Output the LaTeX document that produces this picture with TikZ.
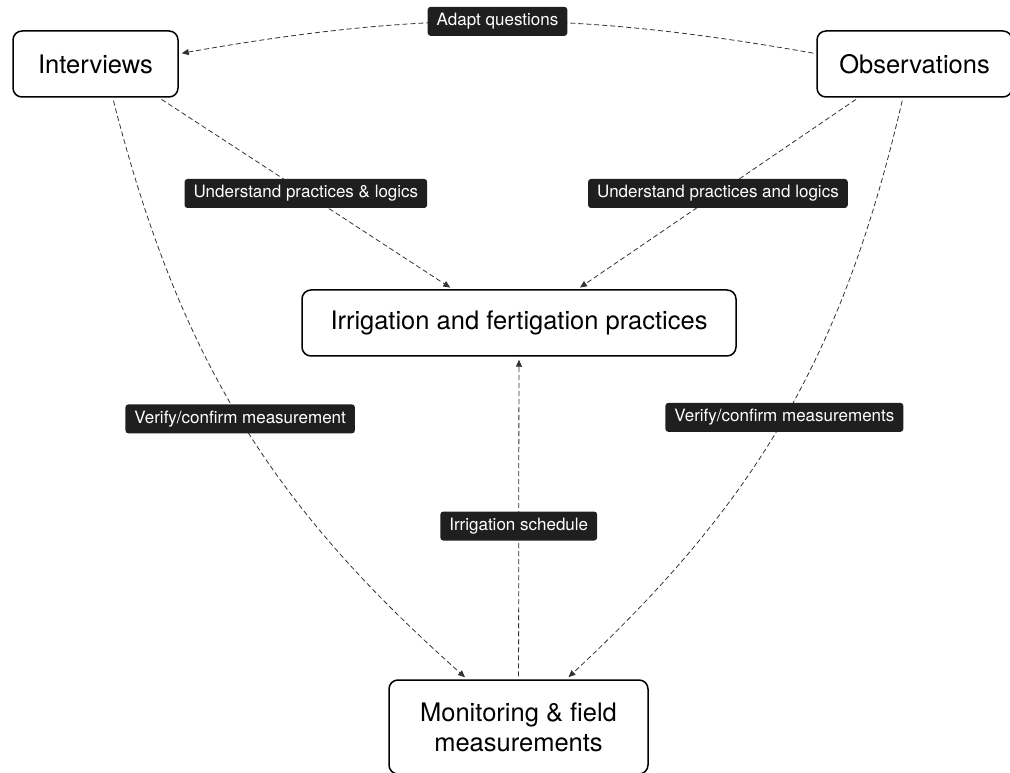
\documentclass[tikz,border=0pt]{standalone}
\usepackage{fontspec}
\setmainfont{TeX Gyre Heros}
\usetikzlibrary{arrows.meta}

\tikzset{
    block/.style={draw, rounded corners=9pt, line width=1.5pt, align=center,
        font=\fontsize{25.5}{30}\selectfont, minimum height=66pt, fill=white},
    tag/.style={fill=black!88, text=white, rounded corners=3pt, inner xsep=9pt,
        font=\fontsize{17}{19}\selectfont, minimum height=29pt},
    link/.style={draw=black!80, line width=0.8pt, dash pattern=on 5pt off 3pt,
        -{Triangle[length=7pt,width=6pt]}, shorten <=3pt, shorten >=3pt},
}

\begin{document}
\begin{tikzpicture}[x=1pt,y=1pt]
            \useasboundingbox (0,0) rectangle (1010,772);
            \node [block, minimum width=165pt] (int) at(95.5,708) {Interviews};
            \node [block, minimum width=195pt] (obs) at(914.5,708) {Observations};
            \node [block, minimum width=434pt] (irr) at(519,449) {Irrigation and fertigation practices};
            \node [block, minimum width=259pt, minimum height=94pt] (mon) at(518.5,45) {Monitoring \& field\\measurements};
            \draw [link] (obs.174) to[bend right=10] node [tag] (adapt) {Adapt questions} (int.7);
            \draw [link] (int.-28) -- node [tag] (undl) {Understand practices \& logics} (irr.153);
            \draw [link] (obs.211) -- node [tag] (undr) {Understand practices and logics} (irr.30);
            \draw [link] (int.-63) to[bend right=17] node [tag] (verl) {Verify/confirm measurement} (mon.137);
            \draw [link] (obs.251) to[bend left=17] node [tag] (verr) {Verify/confirm measurements} (mon.45);
            \draw [link] (mon) -- node [tag, pos=0.475] (sched) {Irrigation schedule} (irr);
        \end{tikzpicture}
\end{document}
